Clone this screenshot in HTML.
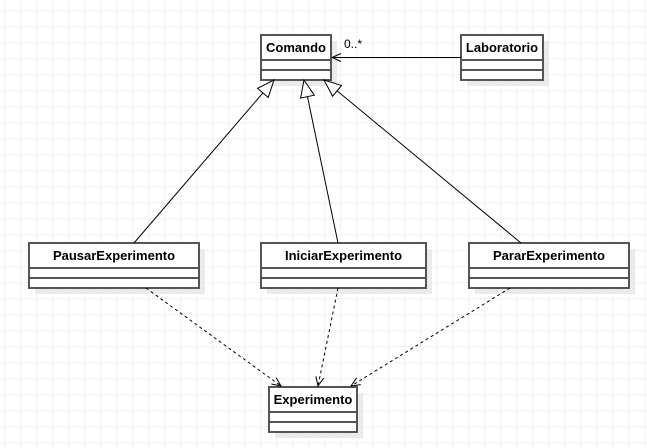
<!DOCTYPE html>
<html><head><meta charset="utf-8"><style>
html,body{margin:0;padding:0;background:#fff;}
svg{display:block;}
text{font-family:"Liberation Sans",Arial,sans-serif;font-size:13px;font-weight:bold;fill:#000;}
</style></head><body>
<svg width="647" height="448" viewBox="0 0 647 448" xmlns="http://www.w3.org/2000/svg">
<defs>
<pattern id="g" x="4.5" y="10.5" width="16" height="16" patternUnits="userSpaceOnUse">
<path d="M0,0 H16 M0,0 V16" stroke="#e8e8e8" stroke-width="1.2" fill="none"/>
</pattern>
<marker id="tri" markerWidth="20" markerHeight="16" refX="18" refY="8" orient="auto" markerUnits="userSpaceOnUse">
<path d="M1,1 L18,8 L1,15 z" fill="#fff" stroke="#000" stroke-width="1"/>
</marker>
<marker id="open" markerWidth="12" markerHeight="12" refX="10" refY="5" orient="auto" markerUnits="userSpaceOnUse">
<path d="M1,1 L10,5 L1,9" fill="none" stroke="#000" stroke-width="1"/>
</marker>
</defs>
<rect width="647" height="448" fill="url(#g)"/>

<g fill="#ebebeb">
<rect x="267" y="41" width="70" height="45"/>
<rect x="467" y="41" width="82" height="45"/>
<rect x="35" y="249" width="170" height="45"/>
<rect x="267" y="249" width="165" height="45"/>
<rect x="475" y="249" width="160" height="45"/>
<rect x="275" y="393" width="88" height="45"/>
</g>

<g fill="#fff" stroke="#555" stroke-width="2">
<rect x="261" y="35" width="70" height="45"/>
<path d="M261,60H331M261,70H331"/>
<rect x="461" y="35" width="82" height="45"/>
<path d="M461,60H543M461,70H543"/>
<rect x="29" y="243" width="170" height="45"/>
<path d="M29,268H199M29,278H199"/>
<rect x="261" y="243" width="165" height="45"/>
<path d="M261,268H426M261,278H426"/>
<rect x="469" y="243" width="160" height="45"/>
<path d="M469,268H629M469,278H629"/>
<rect x="269" y="387" width="88" height="45"/>
<path d="M269,412H357M269,422H357"/>
</g>

<text x="296" y="52" text-anchor="middle">Comando</text>
<text x="502" y="52" text-anchor="middle">Laboratorio</text>
<text x="114" y="260" text-anchor="middle">PausarExperimento</text>
<text x="343.5" y="260" text-anchor="middle">IniciarExperimento</text>
<text x="549" y="260" text-anchor="middle">PararExperimento</text>
<text x="313" y="404" text-anchor="middle">Experimento</text>

<g stroke="#000" stroke-width="1" fill="none">
<line x1="461" y1="57.5" x2="332" y2="57.5" marker-end="url(#open)"/>
<line x1="134" y1="243" x2="274" y2="80" marker-end="url(#tri)"/>
<line x1="338" y1="243" x2="304" y2="80" marker-end="url(#tri)"/>
<line x1="521" y1="243" x2="324" y2="80" marker-end="url(#tri)"/>
<g stroke-dasharray="3,3">
<line x1="146" y1="288" x2="281" y2="386" marker-end="url(#open)"/>
<line x1="338" y1="288" x2="318" y2="386" marker-end="url(#open)"/>
<line x1="510" y1="288" x2="351" y2="386" marker-end="url(#open)"/>
</g>
</g>
<text x="344" y="48" style="font-weight:normal;font-size:12px">0..*</text>
</svg>
</body></html>
